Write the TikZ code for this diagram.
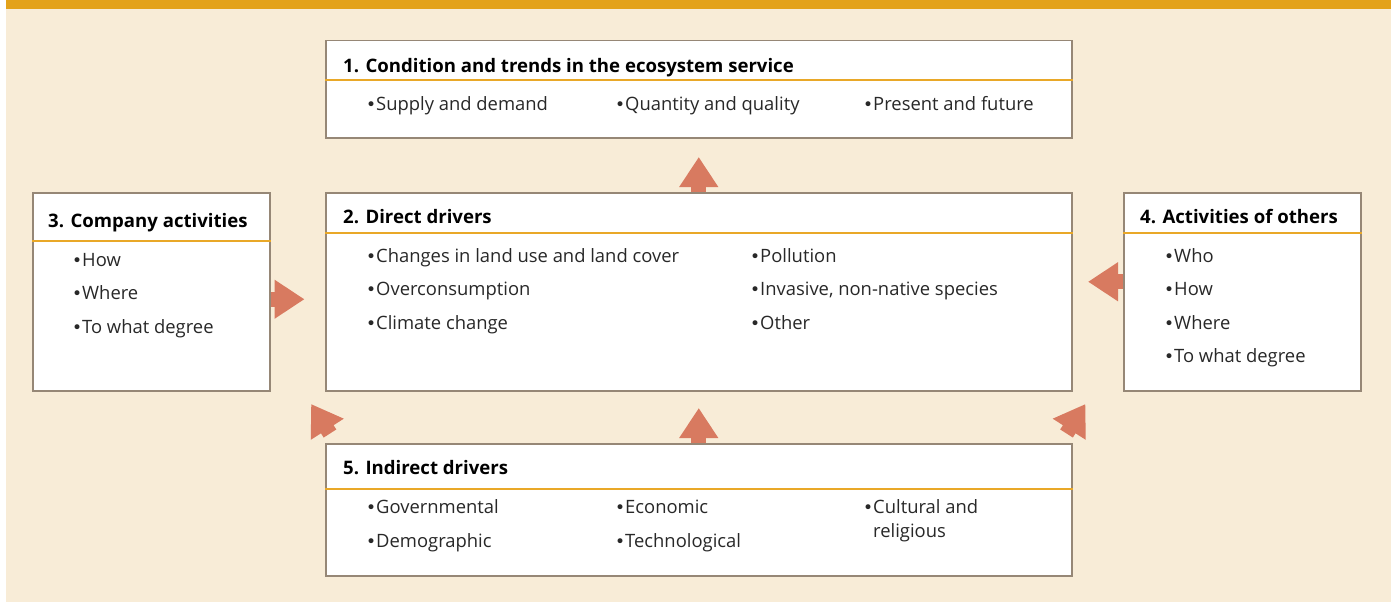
\documentclass[tikz,border=0pt]{standalone}
\usepackage{fontspec}
\setmainfont{Open Sans}
\newfontfamily\dvfont{DejaVu Sans}
\usetikzlibrary{arrows.meta}
\definecolor{bg}{RGB}{248,236,215}
\definecolor{band}{RGB}{227,162,26}
\definecolor{bord}{RGB}{150,135,118}
\definecolor{hdrc}{RGB}{233,168,40}
\definecolor{arrc}{RGB}{216,122,96}
\definecolor{txt}{RGB}{40,40,40}
\tikzset{
  box/.style={draw=bord, line width=1.5pt, fill=white, anchor=north west, inner sep=0pt},
  hdr/.style={draw=hdrc, line width=1.3pt},
  ttl/.style={anchor=base west, inner sep=0pt, font=\fontsize{18.6}{22}\selectfont\bfseries, text=black},
  itm/.style={anchor=base west, inner sep=0pt, font=\fontsize{18.4}{22}\selectfont, text=txt},
  barrow/.style={draw=arrc, line width=15pt, -{Triangle[width=37pt,length=30pt]}}
}
\newcommand{\bu}{\makebox[10pt][l]{\dvfont\fontsize{17}{17}\selectfont •}}
\begin{document}
\begin{tikzpicture}[x=1pt,y=-1pt]
\useasboundingbox (0,0) rectangle (1391,602);
\fill[bg] (6,0) rectangle (1391,602);
\fill[band] (6,0) rectangle (1391,9);
% boxes
\node[box, minimum width=746pt, minimum height=97pt] (b1) at (325,40) {};
\node[box, minimum width=746pt, minimum height=198pt] (b2) at (325,192) {};
\node[box, minimum width=237pt, minimum height=198pt] (b3) at (32,192) {};
\node[box, minimum width=237pt, minimum height=198pt] (b4) at (1123,192) {};
\node[box, minimum width=746pt, minimum height=132pt] (b5) at (325,443) {};
% header lines
\draw[hdr] (b1.west |- 0,80) -- (b1.east |- 0,80);
\draw[hdr] (b2.west |- 0,233) -- (b2.east |- 0,233);
\draw[hdr] (b3.west |- 0,241) -- (b3.east |- 0,241);
\draw[hdr] (b4.west |- 0,233) -- (b4.east |- 0,233);
\draw[hdr] (b5.west |- 0,489) -- (b5.east |- 0,489);
% box 1
\node[ttl] (t1) at (343,72) {1. Condition and trends in the ecosystem service};
\node[itm] (i11) at (366,110) {\bu Supply and demand};
\node[itm] (i12) at (615,110) {\bu Quantity and quality};
\node[itm] (i13) at (863,110) {\bu Present and future};
% box 2
\node[ttl] (t2) at (343,223) {2. Direct drivers};
\node[itm] (i21) at (366,262) {\bu Changes in land use and land cover};
\node[itm] (i22) at (366,295) {\bu Overconsumption};
\node[itm] (i23) at (366,329) {\bu Climate change};
\node[itm] (i24) at (750,262) {\bu Pollution};
\node[itm] (i25) at (750,295) {\bu Invasive, non-native species};
\node[itm] (i26) at (750,329) {\bu Other};
% box 3
\node[ttl] (t3) at (48,227) {3. Company activities};
\node[itm] (i31) at (72,266) {\bu How};
\node[itm] (i32) at (72,299) {\bu Where};
\node[itm] (i33) at (72,333) {\bu To what degree};
% box 4
\node[ttl] (t4) at (1140,223) {4. Activities of others};
\node[itm] (i41) at (1164,262) {\bu Who};
\node[itm] (i42) at (1164,295) {\bu How};
\node[itm] (i43) at (1164,329) {\bu Where};
\node[itm] (i44) at (1164,362) {\bu To what degree};
% box 5
\node[ttl] (t5) at (343,474) {5. Indirect drivers};
\node[itm] (i51) at (366,513) {\bu Governmental};
\node[itm] (i52) at (366,547) {\bu Demographic};
\node[itm] (i53) at (615,513) {\bu Economic};
\node[itm] (i54) at (615,547) {\bu Technological};
\node[itm] (i55) at (863,513) {\bu Cultural and};
\node[itm] (i56) at (873,537) {religious};
% arrows
\draw[barrow] (b2.north) -- ++(0,-35);
\draw[barrow] (b5.north) -- ++(0,-35);
\draw[barrow] ([yshift=-7.5pt]b3.east) -- ++(34,0);
\draw[barrow] ([yshift=10pt]b4.west) -- ++(-35,0);
\draw[barrow] ([shift={(5,-9.5)}]b5.north west) -- ++(-18.9,-29.5);
\draw[barrow] ([shift={(-6,-9.5)}]b5.north east) -- ++(18.9,-29.5);
\end{tikzpicture}
\end{document}
